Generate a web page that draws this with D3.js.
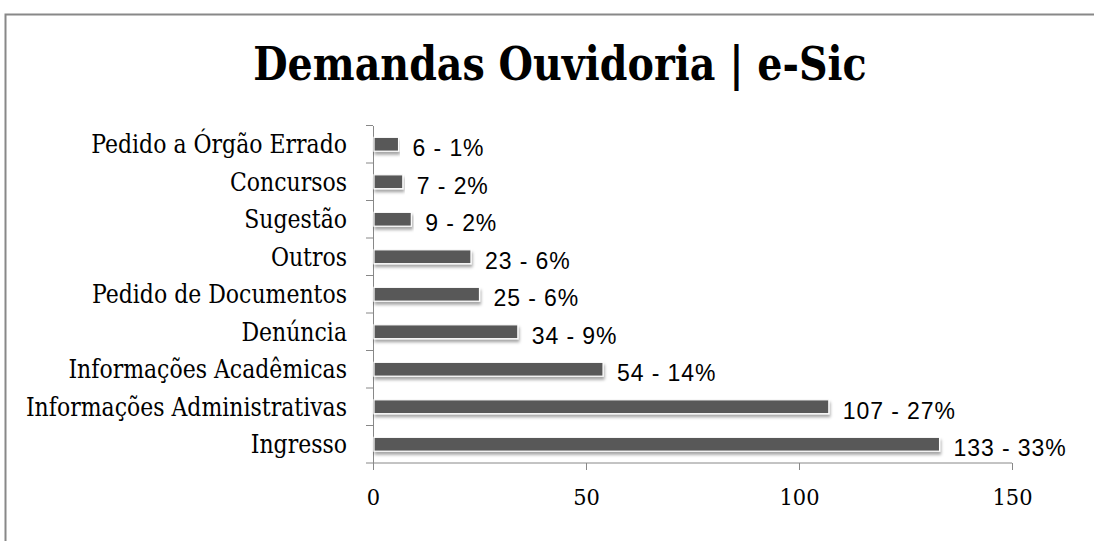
<!DOCTYPE html>
<html><head><meta charset="utf-8">
<script src="https://cdn.jsdelivr.net/npm/d3@7"></script>
<style>body{margin:0;background:#fff}</style>
</head><body>
<script>
const categories = ["Pedido a Órgão Errado","Concursos","Sugestão","Outros","Pedido de Documentos","Denúncia","Informações Acadêmicas","Informações Administrativas","Ingresso"];
const values = [6,7,9,23,25,34,54,107,133];
const percents = ["1%","2%","2%","6%","6%","9%","14%","27%","33%"];
const xTicks = [0,50,100,150];

const W=1094,H=541;
const svg=d3.select("body").append("svg").attr("width",W).attr("height",H);
const serif="'DejaVu Serif', serif";
const sans="'Liberation Sans', Arial, sans-serif";

const defs=svg.append("defs");
const f=defs.append("filter").attr("id","sh").attr("x","-5%").attr("y","-50%").attr("width","110%").attr("height","250%");
f.append("feDropShadow").attr("dx",1).attr("dy",3).attr("stdDeviation",1.5).attr("flood-color","#000").attr("flood-opacity",0.35);

svg.append("rect").attr("x",5.5).attr("y",14.5).attr("width",W+10).attr("height",H+10)
  .attr("fill","#fff").attr("stroke","#888").attr("stroke-width",2);

svg.append("text").attr("transform","translate(560,80) scale(1,1.05)").attr("text-anchor","middle")
  .attr("font-family","'DejaVu Serif Condensed','DejaVu Serif',serif").attr("font-weight","bold")
  .attr("font-size",44).attr("fill","#000").text("Demandas Ouvidoria | e-Sic");

const x=d3.scaleLinear().domain([0,150]).range([373,1012]);
const y=d3.scaleBand().domain(categories).range([125.5,463]).paddingInner(0.63).paddingOuter(0.315);

const xa=svg.append("g").attr("transform","translate(0,463)")
  .call(d3.axisBottom(x).tickValues(xTicks).tickSize(7).tickFormat(d3.format("d")));
xa.selectAll("path,line").attr("stroke","#888");
xa.select(".domain").attr("d","M373,0H1012");
xa.selectAll("text").attr("font-family",serif).attr("font-size",21).attr("fill","#000")
  .attr("dy",null).attr("y",0).attr("transform","translate(0,42) scale(1,1.1)");

const ya=svg.append("g").attr("transform","translate(373,0)")
  .call(d3.axisLeft(y).tickSize(0));
ya.select(".domain").attr("stroke","#888");
ya.selectAll(".tick text").attr("x",0).attr("dy",null).attr("font-family",serif).attr("font-size",22).attr("fill","#000")
  .attr("transform","translate(-26,9) scale(1,1.17)");
// boundary ticks
const bounds=d3.range(categories.length+1).map(i=>y.range()[0]+i*y.step());
svg.append("g").selectAll("line").data(bounds).join("line")
  .attr("x1",366).attr("x2",373).attr("y1",d=>d).attr("y2",d=>d).attr("stroke","#888");

svg.append("g").selectAll("rect").data(values).join("rect")
  .attr("x",x(0)+1).attr("y",(d,i)=>y(categories[i])).attr("width",d=>x(d)-x(0)-1)
  .attr("height",y.bandwidth()).attr("fill","#595959").attr("stroke","#fff").attr("stroke-width",1.2)
  .attr("filter","url(#sh)");

svg.append("g").selectAll("text").data(values).join("text")
  .attr("x",d=>x(d)+14).attr("y",(d,i)=>y(categories[i])+y.bandwidth()/2+12)
  .attr("font-family",sans).attr("font-size",23).attr("letter-spacing",0.9).attr("fill","#000")
  .text((d,i)=>d+" - "+percents[i]);
</script>
</body></html>
